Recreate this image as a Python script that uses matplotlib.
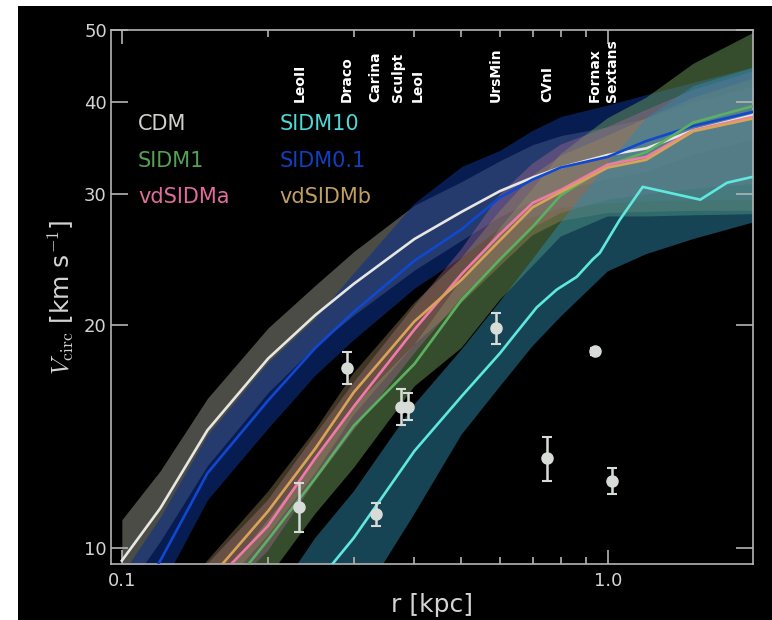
import numpy as np
import matplotlib
matplotlib.use("Agg")
import matplotlib.pyplot as plt
from matplotlib.patches import Rectangle
from matplotlib.ticker import FixedLocator, NullLocator, FixedFormatter
import matplotlib.transforms as mtransforms

plt.rcParams['mathtext.fontset'] = 'cm'

# Radii (kpc) at which the model bands are tabulated
r_grid = [0.10, 0.12, 0.15, 0.20, 0.25, 0.30, 0.40, 0.50, 0.60, 0.70, 0.80, 1.00, 1.20, 1.50, 2.00]

# Median Vcirc (km/s) and 68% band per model
v_cdm = [9.6, 11.3, 14.4, 18.0, 20.6, 22.7, 26.1, 28.4, 30.3, 31.6, 32.6, 33.9, 34.6, 36.6, 38.4]
cdm_hi = [10.9, 12.7, 15.9, 19.8, 22.6, 25.1, 29.0, 31.2, 33.3, 35.0, 36.0, 37.0, 38.0, 40.0, 42.0]
cdm_lo = [8.6, 10.2, 12.9, 16.2, 18.7, 20.6, 23.7, 26.0, 28.0, 29.4, 30.4, 31.5, 32.2, 34.0, 35.6]

v_s01 = [7.8, 9.6, 12.6, 15.8, 18.6, 20.8, 24.4, 26.9, 29.7, 31.4, 32.6, 33.7, 35.4, 37.1, 38.8]
s01_hi = [9.2, 11.0, 14.2, 17.8, 20.4, 23.5, 29.2, 32.7, 34.4, 36.6, 38.2, 39.6, 40.9, 42.5, 44.6]
s01_lo = [7.2, 8.8, 11.6, 14.5, 17.1, 19.1, 22.4, 24.7, 27.0, 28.0, 28.8, 29.2, 29.4, 29.5, 29.5]

v_s1 = [5.6, 6.6, 8.1, 10.25, 12.4, 14.6, 17.7, 21.6, 24.5, 27.1, 29.9, 32.8, 34.2, 37.5, 39.5]
s1_hi = [6.0, 7.0, 8.6, 10.9, 13.1, 15.5, 18.8, 23.0, 27.0, 30.5, 34.0, 38.0, 40.5, 45.0, 49.6]
s1_lo = [5.0, 5.9, 7.2, 9.1, 11.1, 12.8, 16.5, 18.6, 21.6, 24.0, 26.3, 28.0, 28.0, 28.1, 28.2]

v_a = [6.1, 7.2, 8.8, 10.7, 13.2, 15.5, 19.7, 23.4, 26.5, 29.2, 30.4, 32.9, 33.7, 36.6, 38.2]
a_hi = [6.6, 7.8, 9.5, 11.6, 14.2, 16.7, 21.2, 25.3, 30.0, 33.0, 35.0, 37.0, 39.0, 41.5, 44.0]
a_lo = [5.7, 6.7, 8.2, 9.9, 12.3, 14.4, 18.3, 21.8, 24.6, 27.0, 28.3, 29.5, 30.0, 30.5, 31.0]

v_b = [6.4, 7.5, 9.0, 11.2, 13.6, 16.2, 20.2, 23.0, 26.0, 28.8, 30.2, 32.6, 33.4, 36.5, 38.0]
b_hi = [6.8, 8.0, 9.6, 11.9, 14.4, 17.2, 21.4, 24.6, 28.5, 31.8, 33.8, 36.0, 38.0, 40.5, 43.0]
b_lo = [5.9, 7.0, 8.4, 10.4, 12.6, 15.1, 18.8, 21.4, 24.0, 26.4, 27.6, 28.3, 28.4, 28.5, 28.5]

s10_hi = [4.5, 5.3, 6.5, 8.3, 10.3, 11.9, 15.6, 18.5, 21.5, 24.5, 27.5, 33.0, 38.0, 42.0, 44.5]
s10_lo = [3.5, 4.2, 5.3, 6.6, 7.3, 8.2, 11.1, 14.2, 16.5, 18.7, 20.5, 23.6, 24.9, 26.1, 27.5]

# SIDM10 median is noisy at large radii, tabulated on its own radii
r_s10 = [0.25, 0.30, 0.40, 0.50, 0.60, 0.64, 0.714, 0.785, 0.863, 0.931, 0.963, 1.058, 1.18, 1.55, 1.76, 2.0]
v_s10 = [8.9, 10.3, 13.5, 16.0, 18.3, 19.3, 21.1, 22.3, 23.2, 24.5, 25.0, 27.7, 30.7, 29.5, 31.1, 31.7]

# Dwarf spheroidals: Vcirc at the half-light radius
gal_names = ['LeoII', 'Draco', 'Carina', 'Sculpt', 'LeoI', 'UrsMin', 'CVnI', 'Fornax', 'Sextans']
gal_r = [0.232, 0.290, 0.333, 0.375, 0.388, 0.588, 0.749, 0.940, 1.019]
gal_v = [11.35, 17.5, 11.1, 15.5, 15.5, 19.8, 13.2, 18.4, 12.3]
gal_err = [0.87, 0.85, 0.4, 0.85, 0.65, 0.95, 0.9, 0.2, 0.5]
label_shift = {'LeoI': 1.048, 'Sculpt': 0.985}

models = [
    # name, median, hi, lo, line colour, band colour, band alpha
    ('CDM', v_cdm, cdm_hi, cdm_lo, '#e6e6e2', '#8c8c80', 0.55),
    ('SIDM0.1', v_s01, s01_hi, s01_lo, '#1048d0', '#0c3088', 0.6),
    ('SIDM1', v_s1, s1_hi, s1_lo, '#5cb060', '#6a9a5a', 0.5),
    ('vdSIDMa', v_a, a_hi, a_lo, '#f07aa8', '#a86a94', 0.4),
    ('vdSIDMb', v_b, b_hi, b_lo, '#d8a456', '#a08a5a', 0.4),
    ('SIDM10', None, s10_hi, s10_lo, '#5ee8e0', '#2e88a8', 0.5),
]

fig = plt.figure(figsize=(7.72, 6.2), dpi=100, facecolor='white')
fig.patches.append(Rectangle((18 / 772, 0), 1, 614 / 620, transform=fig.transFigure,
                             facecolor='black', edgecolor='none', zorder=-10))
ax = fig.add_axes([0.1438, 0.0903, 0.8316, 0.8613])
ax.set_facecolor('black')

for name, med, hi, lo, lc, bc, al in models:
    ax.fill_between(r_grid, lo, hi, color=bc, alpha=al, lw=0, zorder=1)

for name, med, hi, lo, lc, bc, al in models:
    if med is None:
        ax.plot(r_s10, v_s10, color=lc, lw=1.9, zorder=3)
    else:
        ax.plot(r_grid, med, color=lc, lw=1.9, zorder=3)

ax.errorbar(gal_r, gal_v, yerr=gal_err, fmt='o', color='#d8dcd8', ms=8,
            elinewidth=1.8, capsize=3.5, capthick=1.5, zorder=5)

trans = mtransforms.blended_transform_factory(ax.transData, ax.transAxes)
for name, r in zip(gal_names, gal_r):
    ax.text(r * label_shift.get(name, 1.0), 0.865, name, transform=trans,
            rotation=90, ha='center', va='bottom', color='white',
            fontsize=10, fontweight='bold', zorder=6)

# model legend as coloured text
leg_x = [0.042, 0.263]
leg_y = [0.824, 0.755, 0.687]
leg_order = [('CDM', 0, 0), ('SIDM10', 1, 0), ('SIDM1', 0, 1),
             ('SIDM0.1', 1, 1), ('vdSIDMa', 0, 2), ('vdSIDMb', 1, 2)]
colours = {
    'CDM': '#d0d0cc', 'SIDM10': '#4fd6d6', 'SIDM1': '#55a055',
    'SIDM0.1': '#1040c0', 'vdSIDMa': '#e06c9c', 'vdSIDMb': '#c0a060',
}
for name, col, row in leg_order:
    ax.text(leg_x[col], leg_y[row], name, transform=ax.transAxes, color=colours[name],
            fontsize=15, ha='left', va='center', zorder=6)

ax.set_xscale('log')
ax.set_yscale('log')
ax.set_xlim(0.095, 1.99)
ax.set_ylim(9.5, 50)

ax.xaxis.set_major_locator(FixedLocator([0.1, 1.0]))
ax.xaxis.set_major_formatter(FixedFormatter(['0.1', '1.0']))
ax.xaxis.set_minor_locator(FixedLocator([0.2, 0.3, 0.4, 0.5, 0.6, 0.7, 0.8, 0.9]))
ax.xaxis.set_minor_formatter(FixedFormatter([]))
ax.yaxis.set_major_locator(FixedLocator([10, 20, 30, 40, 50]))
ax.yaxis.set_major_formatter(FixedFormatter(['10', '20', '30', '40', '50']))
ax.yaxis.set_minor_locator(NullLocator())

ax.tick_params(which='both', direction='in', top=True, right=True,
               colors='#b4b4b4', labelcolor='#d4d4d4', labelsize=13, width=1.2)
ax.tick_params(axis='x', which='major', length=10, pad=6)
ax.tick_params(axis='x', which='minor', length=5)
ax.tick_params(axis='y', which='major', length=12, pad=3)
for sp in ax.spines.values():
    sp.set_color('#b4b4b4')
    sp.set_linewidth(1.2)

ax.set_xlabel('r [kpc]', color='#d4d4d4', fontsize=18, labelpad=2)
ax.set_ylabel(r'$V_{\rm circ}$ [km s$^{-1}$]', color='#d4d4d4', fontsize=18, labelpad=6)

fig.savefig('out.png', dpi=100, facecolor=fig.get_facecolor())
